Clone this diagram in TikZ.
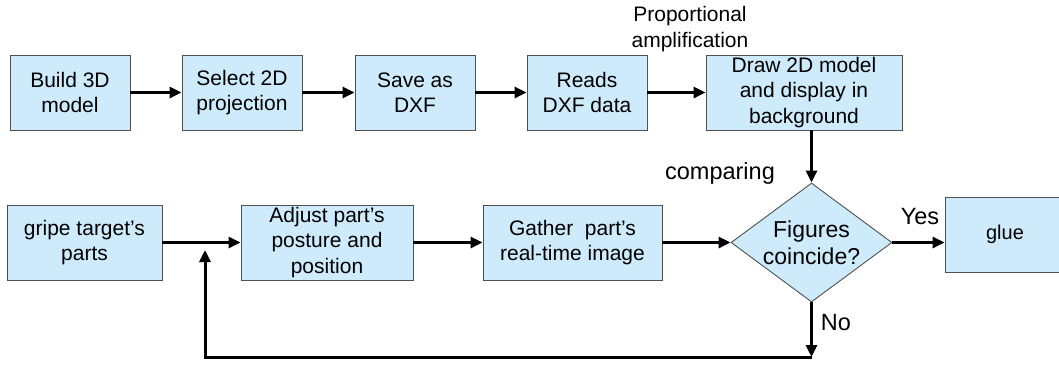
\documentclass[tikz,border=0pt]{standalone}
\usepackage{fontspec}
\setmainfont{Liberation Sans}
\usetikzlibrary{arrows.meta,shapes.geometric}
\definecolor{boxfill}{RGB}{206,235,252}
\definecolor{boxline}{RGB}{80,80,80}
\begin{document}
\begin{tikzpicture}[x=1pt,y=-1pt,
  font=\fontsize{21}{25.5}\selectfont,
  stepbox/.style={draw=boxline,line width=0.9pt,fill=boxfill,
    minimum height=75pt,align=center,inner sep=1pt},
  decide/.style={diamond,draw=boxline,line width=0.9pt,fill=boxfill,
    minimum width=161pt,minimum height=119pt,inner sep=0pt,
    label={[align=center,inner sep=0pt,font=\fontsize{23}{27}\selectfont]center:#1}},
  flow/.style={line width=3pt,-{Triangle[length=12pt,width=11pt]}},
  lbl/.style={align=center,inner sep=0pt},
  biglbl/.style={lbl,font=\fontsize{23.5}{28}\selectfont}]
\useasboundingbox (0,0) rectangle (1059,365);

% upper row: from the 3D model to the drawn 2D background
\node[stepbox,minimum width=120pt] (build) at (70,92.5) {Build 3D\\model};
\node[stepbox,minimum width=120pt] (select) at (242,92.5) {Select 2D\\projection};
\node[stepbox,minimum width=120pt] (save) at (415,92.5) {Save as\\DXF};
\node[stepbox,minimum width=120pt] (reads) at (587,92.5) {Reads\\DXF data};
\node[stepbox,minimum width=196pt] (draw) at (804,92.5) {Draw 2D model\\and display in\\background};

% lower row: gripping, adjusting and checking the part
\node[stepbox,minimum width=155pt] (gripe) at (84.5,242.5) {gripe target’s\\parts};
\node[stepbox,minimum width=172pt] (adjust) at (327,242.5) {Adjust part’s\\posture and\\position};
\node[stepbox,minimum width=179pt] (gather) at (572.5,242.5) {Gather\ \ part’s\\real-time image};
\node[decide={Figures\\coincide?}] (coincide) at (811.5,242.5) {};
\node[stepbox,minimum width=120pt,font=\fontsize{20}{24}\selectfont] (glue) at (1005,234.5) {glue};

% labels
\node[lbl] (ampl) at (690,29) {Proportional\\amplification};
\node[biglbl] (cmp) at (720,173) {comparing};
\node[biglbl] (yes) at (920,217) {Yes};
\node[biglbl] (no) at (836,323) {No};

% feedback loop corners
\coordinate (nobot) at (811.5,357);
\coordinate (loopL) at (205,357);
\coordinate (loopTip) at (205,250);

% connectors
\draw[flow] (build) -- (select);
\draw[flow] (select) -- (save);
\draw[flow] (save) -- (reads);
\draw[flow] (reads) -- (draw);
\draw[flow] (draw.south -| coincide.north) -- (coincide.north);
\draw[flow] (gripe) -- (adjust);
\draw[flow] (adjust) -- (gather);
\draw[flow] (gather.east |- coincide.west) -- (coincide.west);
\draw[flow] (coincide.east) -- (coincide.east -| glue.west);
\draw[flow] (coincide.south) -- (nobot);
\draw[flow,line join=miter] (nobot) -- (loopL) -- (loopTip);
\end{tikzpicture}
\end{document}
